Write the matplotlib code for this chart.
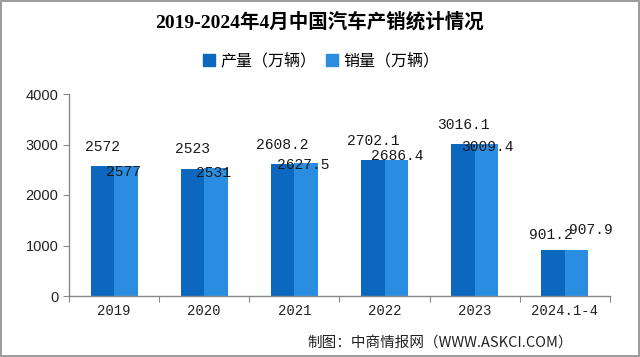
import matplotlib.pyplot as plt
import numpy as np
from matplotlib.patches import Rectangle
from matplotlib.lines import Line2D

# data
years = ["2019", "2020", "2021", "2022", "2023", "2024.1-4"]
production = [2572, 2523, 2608.2, 2702.1, 3016.1, 901.2]
sales = [2577, 2531, 2627.5, 2686.4, 3009.4, 907.9]
prod_labels = ["2572", "2523", "2608.2", "2702.1", "3016.1", "901.2"]
sales_labels = ["2577", "2531", "2627.5", "2686.4", "3009.4", "907.9"]

# label offsets in pixels (the original Excel chart places them unevenly)
prod_offsets = [(0, 19), (0, 20), (0, 19), (0, 19), (0, 19), (-2, 15)]
sales_offsets = [(-2, -6), (-2, -5), (-3, -2), (1, 4), (1, -3), (14, 20)]

c_prod = "#0B68BE"
c_sales = "#2A8DE0"
cjk = ["Noto Sans CJK SC", "DejaVu Sans"]

fig = plt.figure(figsize=(6.4, 3.57), dpi=100)
ax = fig.add_axes([69 / 640, 61 / 357, 541 / 640, 202 / 357])

x = np.arange(len(years))
w = 0.26
ax.bar(x - w / 2, production, width=w, color=c_prod, zorder=2)
ax.bar(x + w / 2, sales, width=w, color=c_sales, zorder=2)

for i in range(len(years)):
    ax.annotate(prod_labels[i], (x[i] - w / 2, production[i]), xytext=prod_offsets[i],
                textcoords="offset pixels", ha="center", va="center",
                fontsize=10.5, family="Liberation Mono", color="#1a1a1a")
    ax.annotate(sales_labels[i], (x[i] + w / 2, sales[i]), xytext=sales_offsets[i],
                textcoords="offset pixels", ha="center", va="center",
                fontsize=10.5, family="Liberation Mono", color="#1a1a1a")

ax.set_xlim(-0.5, len(years) - 0.5)
ax.set_ylim(0, 4000)
ax.set_yticks([0, 1000, 2000, 3000, 4000])
ax.tick_params(axis="y", direction="out", length=4, color="#888888",
               labelsize=10.5, labelcolor="#222222")
for lab in ax.get_yticklabels():
    lab.set_family("Liberation Sans")

# tick marks between categories, labels at category centres
ax.set_xticks(np.arange(-0.5, len(years)), labels=[""] * (len(years) + 1))
ax.set_xticks(x, labels=years, minor=True)
ax.tick_params(axis="x", which="major", direction="out", length=4, color="#888888")
ax.tick_params(axis="x", which="minor", length=0, pad=6, labelsize=10,
               labelcolor="#222222")
for lab in ax.get_xticklabels(minor=True):
    lab.set_family("Liberation Mono")

for s in ["top", "right"]:
    ax.spines[s].set_visible(False)
for s in ["left", "bottom"]:
    ax.spines[s].set_color("#888888")
    ax.spines[s].set_linewidth(1)

fig.text(0.5, 1 - 22 / 357, "2019-2024年4月中国汽车产销统计情况", ha="center", va="center",
         fontsize=14, fontweight="bold", family=["Liberation Serif", "Noto Sans CJK SC"])

handles = [Line2D([], [], marker="s", linestyle="none", markersize=8, color=c_prod),
           Line2D([], [], marker="s", linestyle="none", markersize=8, color=c_sales)]
fig.legend(handles, ["产量（万辆）", "销量（万辆）"], loc="center",
           bbox_to_anchor=(0.5, 1 - 61 / 357), ncol=2, frameon=False,
           prop={"family": cjk, "size": 11.5}, handletextpad=0.2, columnspacing=0.5,
           handlelength=1.0)

fig.text(573 / 640, 1 - 343 / 357, "制图：中商情报网（WWW.ASKCI.COM）", ha="right", va="center",
         fontsize=10.5, family=cjk, color="#222222")

fig.patches.append(Rectangle((0.001, 0.002), 0.997, 0.996, transform=fig.transFigure,
                             fill=False, edgecolor="#8a8a8a", linewidth=1.2))

fig.savefig("out.png", dpi=100)
